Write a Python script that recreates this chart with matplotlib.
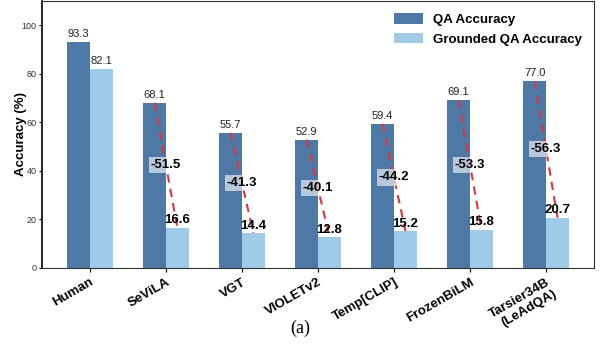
import matplotlib
matplotlib.use("Agg")
import matplotlib.pyplot as plt
import numpy as np

plt.rcParams['font.family'] = ['Liberation Sans', 'DejaVu Sans']

models = ['Human', 'SeViLA', 'VGT', 'VIOLETv2', 'Temp[CLIP]', 'FrozenBiLM', 'Tarsier34B\n(LeAdQA)']
qa_acc = [93.3, 68.1, 55.7, 52.9, 59.4, 69.1, 77.0]
gqa_acc = [82.1, 16.6, 14.4, 12.8, 15.2, 15.8, 20.7]

c_qa = '#4e78a6'
c_gqa = '#9fcae8'
w = 0.3

fig = plt.figure(figsize=(6, 3.47), dpi=100)
ax = fig.add_axes([0.07, 0.228, 0.92, 0.769])

x = np.arange(len(models))
ax.bar(x - w / 2, qa_acc, w, color=c_qa, label='QA Accuracy')
ax.bar(x + w / 2, gqa_acc, w, color=c_gqa, label='Grounded QA Accuracy')

for i in range(len(models)):
    ax.text(x[i] - w / 2, qa_acc[i] + 1.2, f'{qa_acc[i]:.1f}', ha='center', va='bottom',
            fontsize=8, color='#222222')
    if i == 0:
        ax.text(x[i] + w / 2, gqa_acc[i] + 1.2, f'{gqa_acc[i]:.1f}', ha='center', va='bottom',
                fontsize=8, color='#222222')
        continue
    ax.text(x[i] + w / 2, gqa_acc[i] + 0.5, f'{gqa_acc[i]:.1f}', ha='center', va='bottom',
            fontsize=9.5, fontweight='bold')
    ax.plot([x[i] - w / 2, x[i] + w / 2], [qa_acc[i], gqa_acc[i]], ls='--', color='#d9363e',
            lw=1.5, dashes=(4, 3))
    d = gqa_acc[i] - qa_acc[i]
    ax.text(x[i], (qa_acc[i] + gqa_acc[i]) / 2, f'{d:.1f}', ha='center', va='center',
            fontsize=9.5, fontweight='bold',
            bbox=dict(facecolor='white', alpha=0.6, edgecolor='none', pad=1.5))

ax.set_xlim(-0.63, len(models) - 1 + 0.63)
ax.set_ylim(0, 110)
ax.set_yticks([0, 20, 40, 60, 80, 100])
ax.tick_params(axis='y', labelsize=6.5, labelcolor='#333333', length=2.5, pad=1.5)
ax.set_xticks(x)
ax.set_xticklabels(models, rotation=30, ha='right', rotation_mode='anchor',
                   fontsize=9.5, fontweight='bold')
ax.tick_params(axis='x', length=3, pad=3)
ax.set_ylabel('Accuracy (%)', fontsize=9.5, fontweight='bold')
ax.yaxis.set_label_coords(-0.027, 0.5)

for s in ax.spines.values():
    s.set_color('#333333')
ax.spines['left'].set_color('black')
ax.spines['left'].set_linewidth(1.2)

ax.legend(loc='upper right', frameon=False, prop={'weight': 'bold', 'size': 9.5},
          handlelength=2.2, handleheight=0.9, handletextpad=0.8)

fig.text(0.5, 0.03, '(a)', ha='center', va='bottom', fontsize=13,
         family=['Liberation Serif', 'DejaVu Serif'])

fig.savefig('out.png', dpi=100)
